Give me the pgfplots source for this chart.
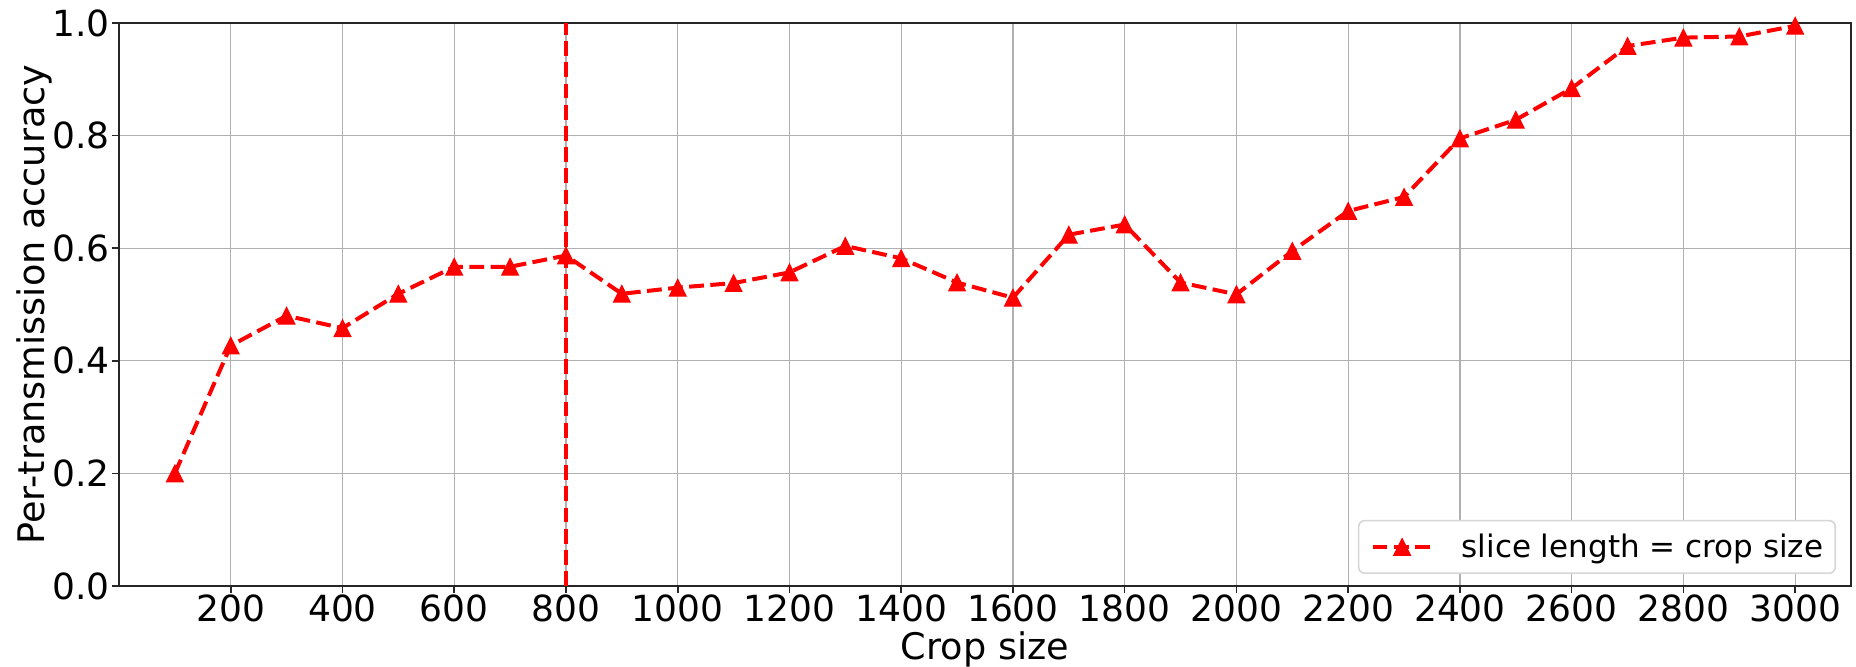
\documentclass[border=0pt]{standalone}
\usepackage{pgfplots}
\pgfplotsset{compat=1.18}
\usepackage{fontspec}
\setmainfont{DejaVu Sans}
\definecolor{gridgray}{HTML}{B0B0B0}
\definecolor{legedge}{HTML}{D6D6D6}
\pgfdeclareplotmark{mpltri}{%
  \pgfpathmoveto{\pgfqpoint{0pt}{\pgfplotmarksize}}%
  \pgfpathlineto{\pgfqpoint{-\pgfplotmarksize}{-\pgfplotmarksize}}%
  \pgfpathlineto{\pgfqpoint{\pgfplotmarksize}{-\pgfplotmarksize}}%
  \pgfpathclose
  \pgfusepathqfillstroke}
\pgfplotstableread{
x y
100 0.200
200 0.427
300 0.480
400 0.458
500 0.519
600 0.567
700 0.567
800 0.587
900 0.519
1000 0.530
1100 0.538
1200 0.557
1300 0.604
1400 0.582
1500 0.539
1600 0.512
1700 0.624
1800 0.642
1900 0.539
2000 0.518
2100 0.595
2200 0.666
2300 0.691
2400 0.795
2500 0.828
2600 0.884
2700 0.959
2800 0.974
2900 0.976
3000 0.995
}\acc
\begin{document}
\begin{tikzpicture}
\begin{axis}[
  scale only axis,
  width=866pt, height=281.5pt,
  xmin=0, xmax=3100, ymin=0, ymax=1,
  xtick={200,400,...,3000},
  ytick={0,0.2,0.4,0.6,0.8,1},
  grid=major,
  major grid style={draw=gridgray, line width=0.6pt},
  axis line style={line width=0.8pt, draw=black!85},
  tick align=outside,
  xtick pos=left, ytick pos=left,
  major tick length=3.5pt,
  every tick/.style={line width=0.8pt, black!85},
  /pgf/number format/assume math mode=true,
  /pgf/number format/1000 sep={},
  yticklabel style={/pgf/number format/fixed, /pgf/number format/fixed zerofill, /pgf/number format/precision=1},
  xticklabel style={font=\fontsize{18}{18}\selectfont, anchor=base, yshift=-14.5pt, inner sep=0pt},
  yticklabel style={font=\fontsize{18}{18}\selectfont, anchor=east, xshift=-1pt, inner sep=0pt},
  label style={font=\fontsize{18.3}{18.3}\selectfont},
  xlabel={Crop size},
  ylabel={Per-transmission accuracy},
  xlabel style={at={(axis description cs:0.5,-0.1314)}, anchor=base},
  ylabel style={at={(axis description cs:-0.049,0.5)}, anchor=center},
  legend style={at={(axis description cs:1,0)}, anchor=south east,
    xshift=-7.5pt, yshift=6pt,
    draw=legedge, line width=0.8pt, rounded corners=3pt,
    inner xsep=6pt, inner ysep=6.5pt,
    nodes={inner sep=0pt},
    font=\fontsize{15.5}{15.5}\selectfont,
    /tikz/every odd column/.style={column sep=14pt}},
  legend cell align=left,
  legend image code/.code={%
    \draw[mark repeat=2, mark phase=2] plot coordinates {(0pt,0pt) (14.75pt,0pt) (29.5pt,0pt)};},
]
\addplot[red, line width=2pt, dash pattern=on 7.4pt off 3.2pt,
  mark=mpltri, mark size=4.2pt, mark options={solid, line width=0.5pt, fill=red}]
  table[x=x, y=y] {\acc};
\addlegendentry{slice length = crop size\hspace{1.5pt}}
\addplot[red, line width=2pt, dash pattern=on 7.4pt off 3.2pt, forget plot]
  coordinates {(800,0) (800,1)};
\end{axis}
\pgfresetboundingbox
\path[use as bounding box] (current axis.south west) ++(-59.5pt,-40.5pt) rectangle ++(928pt,333.5pt);
\end{tikzpicture}
\end{document}
